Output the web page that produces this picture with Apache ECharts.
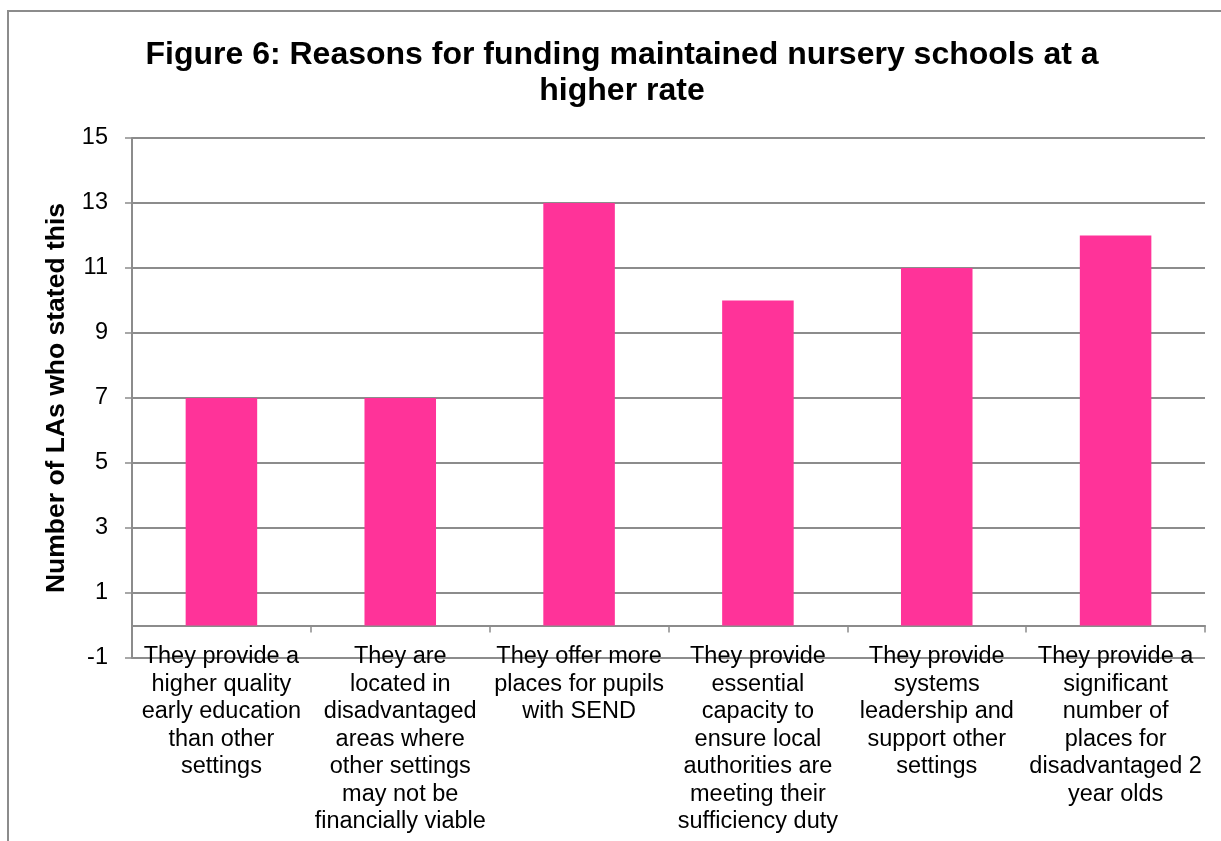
<!DOCTYPE html>
<html>
<head>
<meta charset="utf-8">
<title>Figure 6</title>
<script src="https://cdn.jsdelivr.net/npm/echarts@6/dist/echarts.min.js"></script>
<style>
  html, body { margin: 0; padding: 0; background: #ffffff; }
  #chart { width: 1221px; height: 841px; }
</style>
</head>
<body>
<div id="chart"></div>
<script>
// Reasons given by local authorities, one bar per reason
const categories = [
  'They provide a\nhigher quality\nearly education\nthan other\nsettings',
  'They are\nlocated in\ndisadvantaged\nareas where\nother settings\nmay not be\nfinancially viable',
  'They offer more\nplaces for pupils\nwith SEND',
  'They provide\nessential\ncapacity to\nensure local\nauthorities are\nmeeting their\nsufficiency duty',
  'They provide\nsystems\nleadership and\nsupport other\nsettings',
  'They provide a\nsignificant\nnumber of\nplaces for\ndisadvantaged 2\nyear olds'
];
const counts = [7, 7, 13, 10, 11, 12];

const yMin = -1;
const yMax = 15;
const yStep = 2;

const titleText = 'Figure 6: Reasons for funding maintained nursery schools at a\nhigher rate';
const yAxisTitle = 'Number of LAs who stated this';

const FONT = '"Liberation Sans", Arial, Helvetica, sans-serif';
const GRID_GREY = '#8c8c8c';

const chart = echarts.init(document.getElementById('chart'), null, { renderer: 'canvas' });

chart.setOption({
  backgroundColor: '#ffffff',
  animation: false,
  graphic: [{
    type: 'rect',
    silent: true,
    z: -10,
    shape: { x: 8, y: 11, width: 1400, height: 1000 },
    style: { fill: 'none', stroke: GRID_GREY, lineWidth: 2 }
  }],
  title: {
    text: titleText,
    // centred over the plot area rather than the whole canvas
    left: 617,
    textAlign: 'center',
    top: 32,
    textStyle: {
      fontFamily: FONT,
      fontSize: 32,
      fontWeight: 'bold',
      color: '#000000',
      lineHeight: 36
    }
  },
  grid: {
    left: 132,
    right: 16,
    top: 138,
    bottom: 183,
    containLabel: false,
    outerBoundsMode: 'none'
  },
  xAxis: {
    type: 'category',
    data: categories,
    boundaryGap: true,
    axisLine: { show: true, onZero: true, lineStyle: { color: GRID_GREY, width: 2 } },
    axisTick: { show: true, alignWithLabel: false, length: 7, lineStyle: { color: GRID_GREY, width: 1.5 } },
    axisLabel: {
      interval: 0,
      // the axis sits on zero, labels hang just below that line
      margin: -15,
      fontFamily: FONT,
      fontSize: 23.5,
      lineHeight: 27.5,
      color: '#000000',
      align: 'center',
      hideOverlap: false
    },
    splitLine: { show: false }
  },
  yAxis: {
    type: 'value',
    min: yMin,
    max: yMax,
    interval: yStep,
    name: yAxisTitle,
    nameLocation: 'middle',
    nameGap: 62,
    nameRotate: 90,
    nameTextStyle: {
      fontFamily: FONT,
      fontSize: 26.5,
      fontWeight: 'bold',
      color: '#000000'
    },
    axisLine: { show: true, lineStyle: { color: GRID_GREY, width: 2 } },
    axisTick: { show: true, inside: false, length: 7, lineStyle: { color: GRID_GREY, width: 1.5 } },
    axisLabel: {
      margin: 24,
      fontFamily: FONT,
      fontSize: 23.5,
      color: '#000000'
    },
    splitLine: { show: true, lineStyle: { color: GRID_GREY, width: 2 } }
  },
  series: [{
    type: 'bar',
    data: counts,
    barWidth: '40%',
    itemStyle: { color: '#ff3399' },
    z: 3
  }]
});
</script>
</body>
</html>
